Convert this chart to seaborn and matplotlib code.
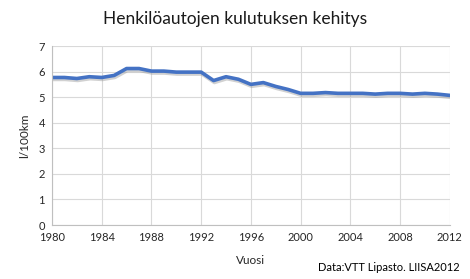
import matplotlib
matplotlib.use("Agg")
import matplotlib.pyplot as plt
import matplotlib.patheffects as pe
import seaborn as sns
import pandas as pd

years = list(range(1980, 2013))
consumption = [5.77, 5.77, 5.73, 5.80, 5.77, 5.85, 6.12, 6.12, 6.02, 6.02, 5.98,
               5.98, 5.98, 5.65, 5.80, 5.70, 5.50, 5.57, 5.42, 5.30, 5.15, 5.15,
               5.18, 5.15, 5.15, 5.15, 5.12, 5.15, 5.15, 5.12, 5.15, 5.12, 5.07]
x_ticks = list(range(1980, 2013, 4))
y_ticks = list(range(0, 8))
title = "Henkilöautojen kulutuksen kehitys"
xlabel = "Vuosi"
ylabel = "l/100km"
source = "Data:VTT Lipasto. LIISA2012"

df = pd.DataFrame({"year": years, "value": consumption})

sns.set_style("white")
plt.rcParams["font.family"] = ["Lato", "DejaVu Sans"]

fig = plt.figure(figsize=(4.7, 2.79), dpi=100)
ax = fig.add_axes([0.1106, 0.1935, 0.8464, 0.6415])

sns.lineplot(data=df, x="year", y="value", ax=ax, color="#4472C4", linewidth=2.6,
             path_effects=[pe.SimpleLineShadow(offset=(0.6, -1.4), shadow_color="#999999", alpha=0.45),
                           pe.Normal()])

ax.set_xlim(1980, 2012)
ax.set_ylim(0, 7)
ax.set_xticks(x_ticks)
ax.set_yticks(y_ticks)
ax.grid(True, color="#d9d9d9", linewidth=0.8)
ax.set_axisbelow(True)
for s in ["top", "right"]:
    ax.spines[s].set_visible(False)
for s in ["left", "bottom"]:
    ax.spines[s].set_color("#bfbfbf")
    ax.spines[s].set_linewidth(0.8)
ax.tick_params(axis="both", length=0, labelsize=8, colors="#262626", pad=5)
ax.set_xlabel(xlabel, fontsize=8.5, color="#262626", labelpad=9)
ax.set_ylabel(ylabel, fontsize=8.5, color="#262626", labelpad=6)
fig.text(0.5, 0.932, title, ha="center", va="center", fontsize=12.5, color="#1a1a1a")
fig.text(0.978, 0.04, source, ha="right", va="center", fontsize=8, color="#000000")

fig.savefig("out.png", dpi=100)
